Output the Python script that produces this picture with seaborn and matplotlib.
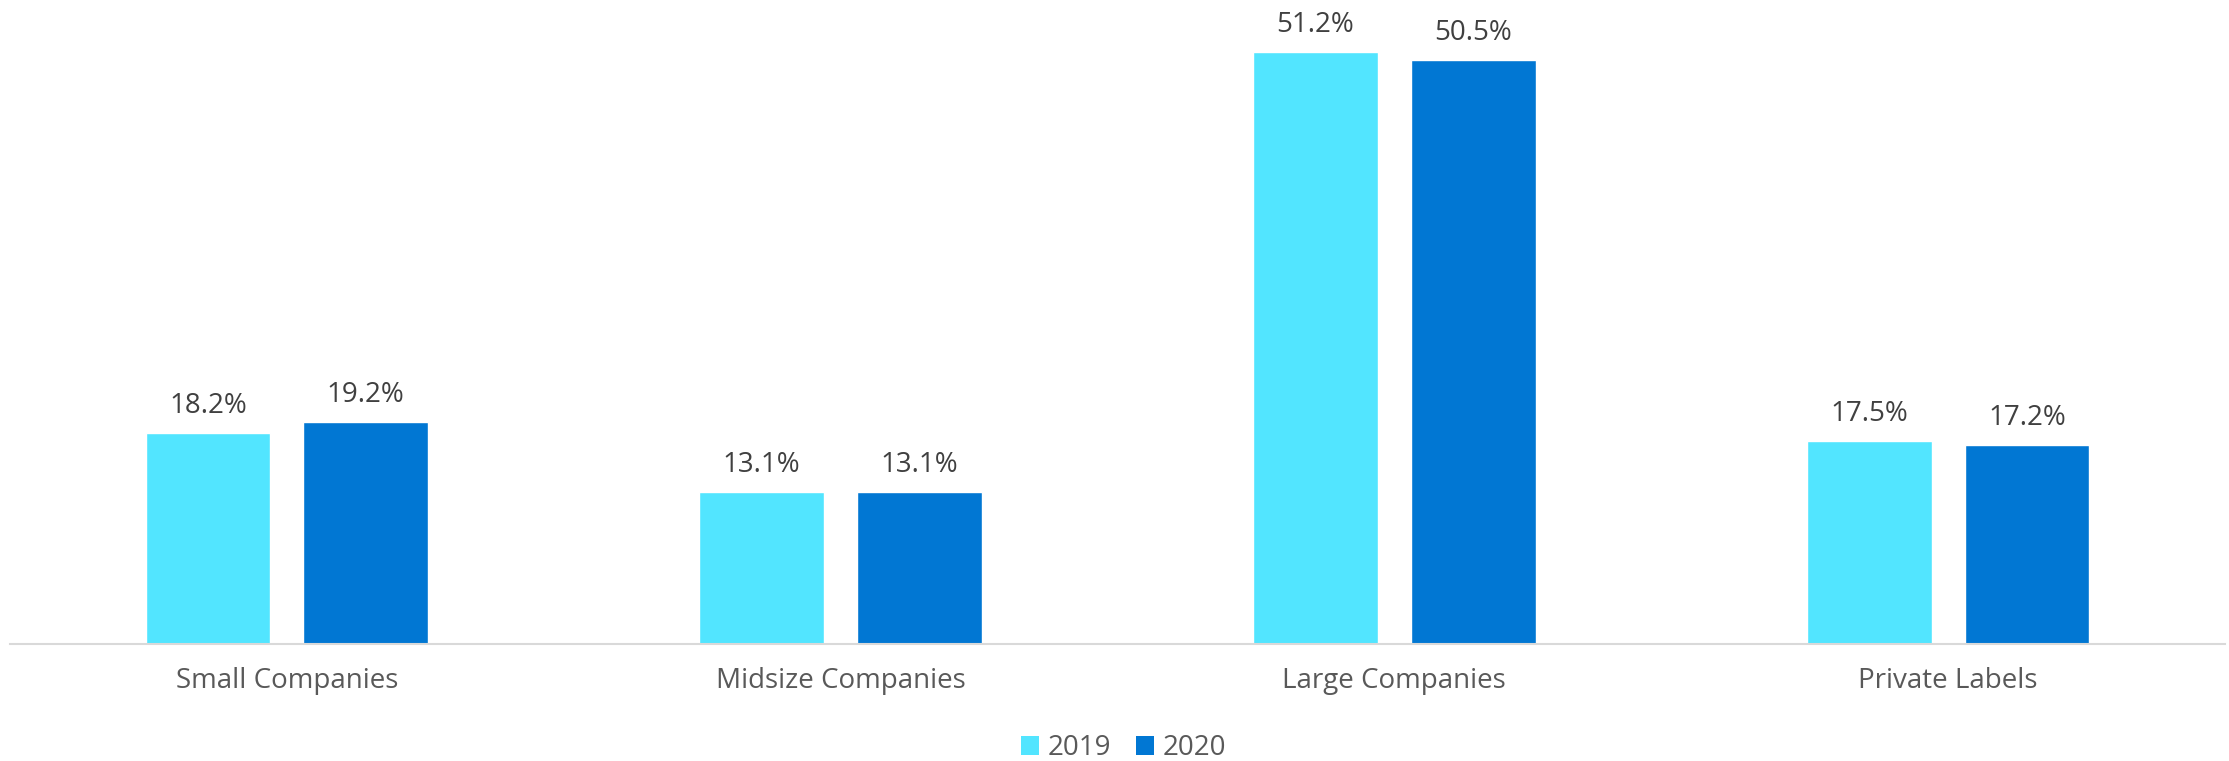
import matplotlib
matplotlib.use("Agg")
import matplotlib.pyplot as plt
from matplotlib.patches import Patch
import pandas as pd
import seaborn as sns

# Market share by company size, 2019 vs 2020 (%)
categories = ["Small Companies", "Midsize Companies", "Large Companies", "Private Labels"]
years = ["2019", "2020"]
share_2019 = [18.2, 13.1, 51.2, 17.5]
share_2020 = [19.2, 13.1, 50.5, 17.2]
colors = ["#52E5FF", "#0177D3"]

df = pd.DataFrame({
    "category": categories * 2,
    "year": [years[0]] * len(categories) + [years[1]] * len(categories),
    "share": share_2019 + share_2020,
})

sns.set_theme(style="white")
plt.rcParams["font.family"] = ["Open Sans", "DejaVu Sans"]

W, H, DPI = 2229, 761, 100
fig = plt.figure(figsize=(W / DPI, H / DPI), dpi=DPI)
ax = fig.add_axes([10 / W, (H - 643.5) / H, 2215 / W, 643.5 / H])

sns.barplot(data=df, x="category", y="share", hue="year", order=categories,
            hue_order=years, palette=colors, width=0.57, gap=0.21,
            saturation=1, legend=False, ax=ax)

ax.set_xlim(-0.5, 3.5)
ax.set_ylim(0, 643.5 / 11.55)

for cont in ax.containers:
    ax.bar_label(cont, fmt="%.1f%%", padding=9.5, fontsize=20, color="#404040")

for side in ["left", "right", "top"]:
    ax.spines[side].set_visible(False)
ax.spines["bottom"].set_color("#D9D9D9")
ax.spines["bottom"].set_linewidth(1.5)

ax.set_yticks([])
ax.set_xlabel("")
ax.set_ylabel("")
ax.tick_params(axis="x", length=0, pad=17, labelsize=20, labelcolor="#595959")

handles = [Patch(facecolor=c, edgecolor="none") for c in colors]
fig.legend(handles, years, loc="center", bbox_to_anchor=(1123.5 / W, 1 - 748 / H),
           ncol=2, frameon=False, fontsize=20, labelcolor="#595959",
           handlelength=0.65, handleheight=0.65, handletextpad=0.32,
           columnspacing=0.9, borderpad=0)

fig.savefig("out.png", dpi=DPI, facecolor="white")
